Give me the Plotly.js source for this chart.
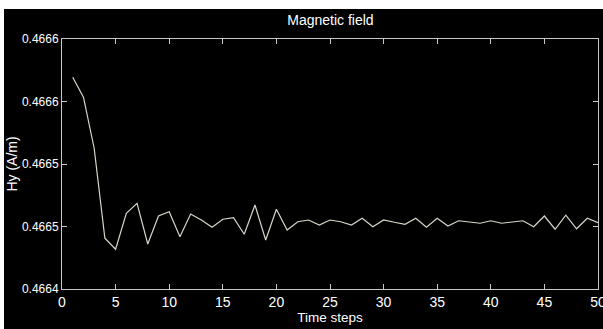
<!DOCTYPE html>
<html><head><meta charset="utf-8">
<script src="https://cdn.plot.ly/plotly-3.0.1.min.js"></script>
<style>html,body{margin:0;padding:0;background:#fff;width:603px;height:329px;overflow:hidden}
#chart{position:absolute;left:4px;top:9px;width:599px;height:320px;background:#000}</style>
</head><body><div id="chart"></div>
<script>
const timeSteps = [1,2,3,4,5,6,7,8,9,10,11,12,13,14,15,16,17,18,19,20,21,22,23,24,25,26,27,28,29,30,31,32,33,34,35,36,37,38,39,40,41,42,43,44,45,46,47,48,49,50];
const hy = [0.4665694,0.4665534,0.4665126,0.4664406,0.4664318,0.4664606,0.4664686,0.4664360,0.4664584,0.4664618,
0.4664418,0.4664600,0.4664552,0.4664494,0.4664558,0.4664570,0.4664438,0.4664672,0.4664392,0.4664638,
0.4664472,0.4664538,0.4664552,0.4664512,0.4664552,0.4664538,0.4664512,0.4664566,0.4664498,0.4664552,
0.4664534,0.4664518,0.4664566,0.4664494,0.4664566,0.4664504,0.4664546,0.4664538,0.4664526,0.4664546,
0.4664526,0.4664536,0.4664546,0.4664498,0.4664584,0.4664478,0.4664590,0.4664482,0.4664566,0.4664530];
const yTickVals = [0.4664,0.46645,0.4665,0.46655,0.4666];
const yTickText = ['0.4664','0.4665','0.4665','0.4666','0.4666'];
const xTickVals = [0,5,10,15,20,25,30,35,40,45,50];

const fam = '"Liberation Sans Narrow", "Liberation Sans", Arial, sans-serif';
const axisCol = '#c8c8c8';
Plotly.newPlot('chart', [{
  x: timeSteps, y: hy, type:'scatter', mode:'lines',
  line:{color:'#d6d6c8', width:1.2}
}], {
  width:599, height:320,
  paper_bgcolor:'#000', plot_bgcolor:'#000',
  margin:{l:58, r:5, t:30, b:40},
  showlegend:false,
  font:{family:fam, color:'#fff', size:13},
  title:{text:'Magnetic field', font:{family:fam, color:'#fff', size:14}, x:0.545, xanchor:'center', y:0.965, yanchor:'middle'},
  xaxis:{range:[0,50], tickvals:xTickVals, ticks:'inside', ticklen:5, tickcolor:axisCol,
    showline:true, linecolor:axisCol, linewidth:1, mirror:'ticks', showgrid:false, zeroline:false,
    ticklabeloverflow:'allow',
    tickfont:{family:fam, color:'#fff', size:14},
    title:{text:'Time steps', font:{family:fam, color:'#fff', size:13.5}, standoff:0}},
  yaxis:{range:[0.4664,0.4666], tickvals:yTickVals, ticktext:yTickText, ticks:'inside', ticklen:5, tickcolor:axisCol,
    showline:true, linecolor:axisCol, linewidth:1, mirror:'ticks', showgrid:false, zeroline:false,
    ticklabeloverflow:'allow',
    tickfont:{family:fam, color:'#fff', size:12},
    title:{text:'Hy (A/m)', font:{family:fam, color:'#fff', size:14}, standoff:1}}
}, {staticPlot:true, displayModeBar:false});
</script></body></html>
